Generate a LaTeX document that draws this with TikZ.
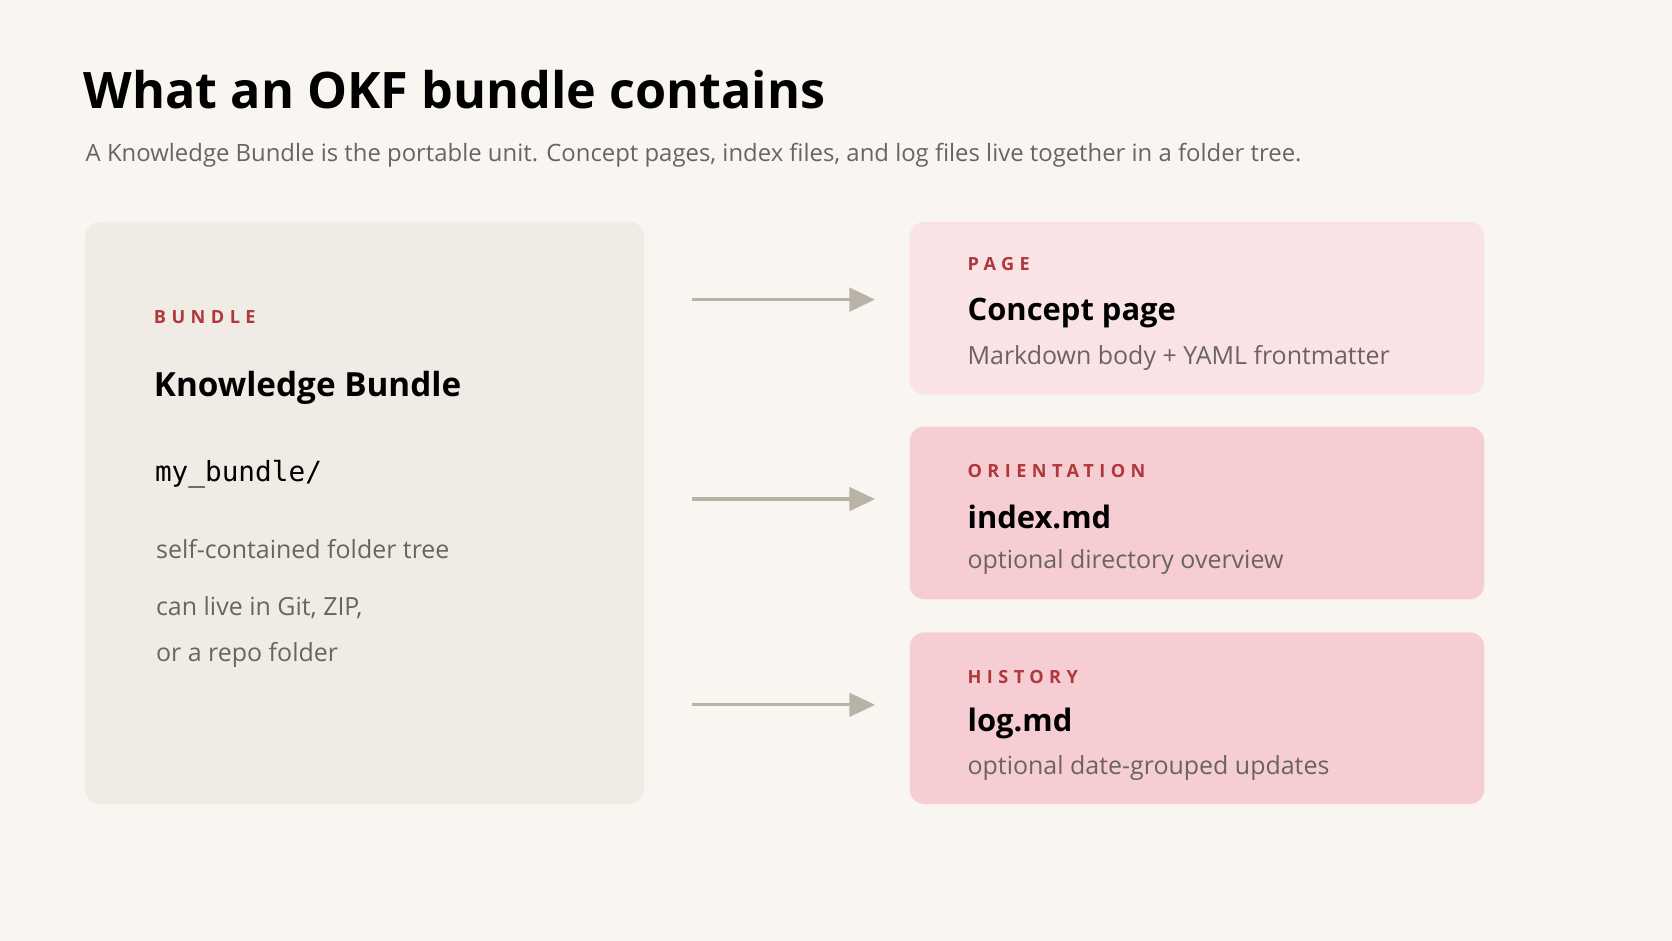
\documentclass[tikz,border=0pt]{standalone}
\usepackage{fontspec}
\setmainfont{Open Sans}
\setmonofont{DejaVu Sans Mono}
\usetikzlibrary{arrows.meta, positioning, calc}
\definecolor{paperBg}{HTML}{F9F6F2}
\definecolor{bundleFill}{HTML}{F0EBE5}
\definecolor{pageFill}{HTML}{F9E3E4}
\definecolor{roseFill}{HTML}{F5CDD3}
\definecolor{tagRed}{HTML}{B0373A}
\definecolor{inkGray}{HTML}{6A6460}
\definecolor{arrowGray}{HTML}{B9B3A7}

\tikzset{
    panel/.style={rounded corners=7pt, draw=none},
    tag/.style={anchor=west, inner sep=0, text=tagRed, font=\fontsize{8.5}{10}\selectfont\bfseries\addfontfeature{LetterSpace=30}},
    head/.style={anchor=west, inner sep=0, font=\fontsize{14.5}{17}\selectfont\bfseries},
    note/.style={anchor=west, inner sep=0, text=inkGray, font=\fontsize{11.7}{14}\selectfont},
    flow/.style={draw=arrowGray, line width=1.5pt, -{Triangle[length=12pt, width=11pt]}, shorten <=22.5pt, shorten >=15.5pt}
}

\begin{document}
\begin{tikzpicture}[x=0.5pt, y=-0.5pt]
        \fill[paperBg] (0,0) rectangle (1568,882);
        \useasboundingbox (0,0) rectangle (1568,882);

        % Heading
        \node[anchor=base west, inner sep=0, font=\fontsize{23.6}{28}\selectfont\bfseries] (title) at (78,102) {What an OKF bundle contains};
        \node[anchor=base west, inner sep=0, text=inkGray, font=\fontsize{11.2}{13}\selectfont] (subtitle) at (80,151) {A Knowledge Bundle is the portable unit. Concept pages, index files, and log files live together in a folder tree.};

        % Bundle panel
        \path[panel, fill=bundleFill] (80,208) rectangle (604,754);
        \node[inner sep=0] (bundle) at (604,481) {};
        \node[tag] at (144,297) {BUNDLE};
        \node[head, font=\fontsize{15.6}{19}\selectfont\bfseries] at (144,364) {Knowledge Bundle};
        \node[anchor=west, inner sep=0, font=\fontsize{13}{16}\ttfamily] at (145,445) {my\_bundle/};
        \node[note] at (146,515) {self-contained folder tree};
        \node[note] at (146,570) {can live in Git, ZIP,};
        \node[note] at (146,614) {or a repo folder};

        % Right cards
        \path[panel, fill=pageFill] (853,208) rectangle (1392,370);
        \node[inner sep=0] (page) at (853,281) {};
        \node[tag] at (907,248) {PAGE};
        \node[head] at (907,294) {Concept page};
        \node[note] at (907,336) {Markdown body + YAML frontmatter};

        \path[panel, fill=roseFill] (853,400) rectangle (1392,562);
        \node[inner sep=0] (index) at (853,468) {};
        \node[tag] at (907,442) {ORIENTATION};
        \node[head] at (907,485) {index.md};
        \node[note] at (907,527) {optional directory overview};

        \path[panel, fill=roseFill] (853,593) rectangle (1392,754);
        \node[inner sep=0] (log) at (853,661) {};
        \node[tag] at (907,635) {HISTORY};
        \node[head] at (907,678) {log.md};
        \node[note] at (907,720) {optional date-grouped updates};

        % Arrows
        \draw[flow] (bundle |- page) -- (page);
        \draw[flow] (bundle |- index) -- (index);
        \draw[flow] (bundle |- log) -- (log);
    \end{tikzpicture}
\end{document}
